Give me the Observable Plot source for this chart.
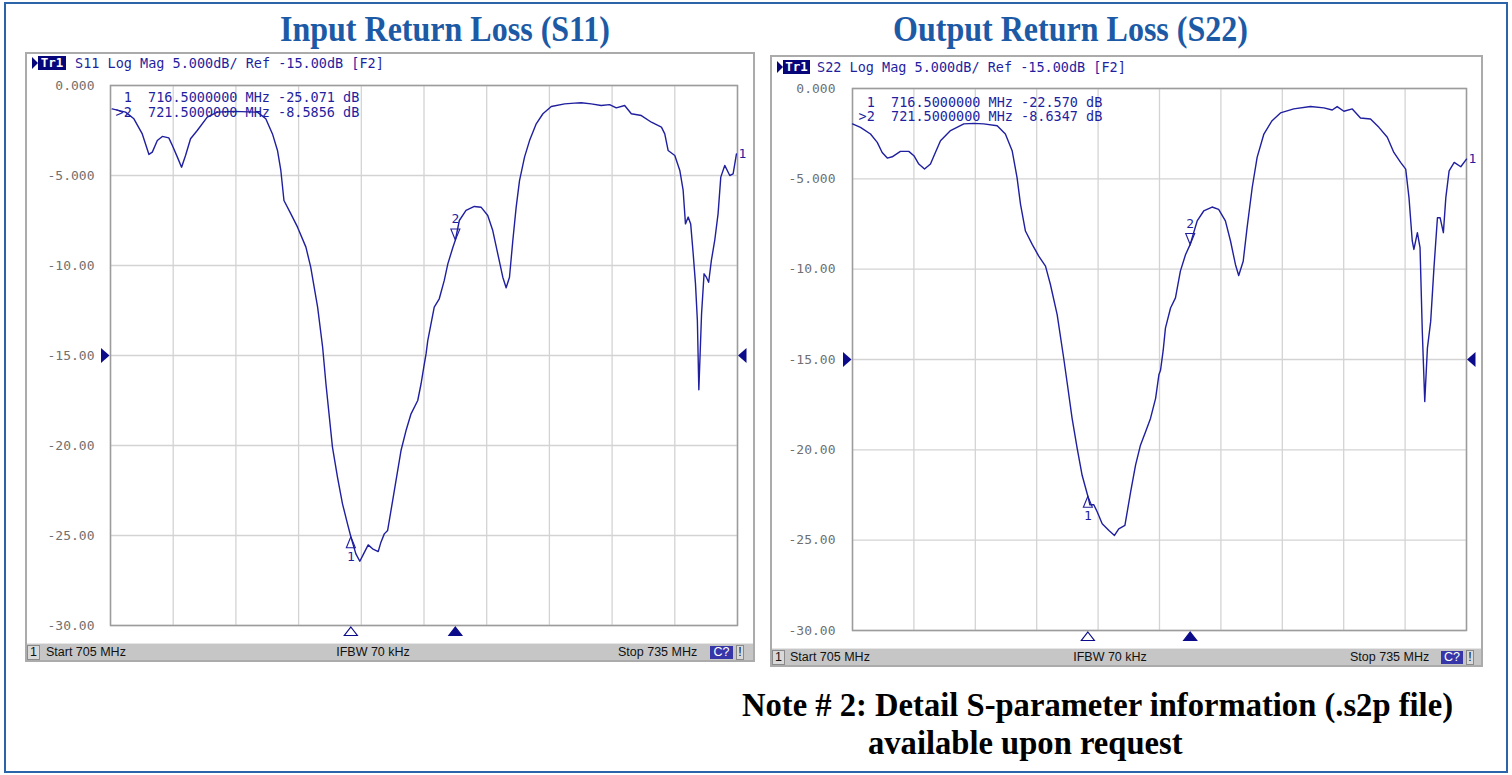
<!DOCTYPE html>
<html>
<head>
<meta charset="utf-8">
<script src="https://cdn.jsdelivr.net/npm/d3@7"></script>
<script src="https://cdn.jsdelivr.net/npm/@observablehq/plot@0.6"></script>
<style>
  html, body { margin: 0; padding: 0; background: #fff; }
  body { width: 1512px; height: 775px; position: relative; overflow: hidden; }
  .abs { position: absolute; }
  svg text { white-space: pre; }
  #outer { position: absolute; left: 4px; top: 2px; width: 1500px; height: 767px; border: 2px solid #2b64a8; }
  .panel { position: absolute; box-sizing: border-box; border: 2px solid #ababab; background: #fff; }
  .title { position: absolute; white-space: nowrap; font-family: "Liberation Serif", serif; font-weight: bold; font-size: 36px; line-height: 36px; color: #1d5aa6; }
  #note { position: absolute; white-space: nowrap; font-family: "Liberation Serif", serif; font-weight: bold; font-size: 34px; line-height: 38px; color: #000; left: 742px; top: 685.5px; transform-origin: left top; }
  #note span { display: inline-block; }
  .hdr { position: absolute; white-space: pre; font-family: "DejaVu Sans Mono", monospace; font-size: 13.5px; line-height: 16px; color: #1f1f9f; }
  .tr1 { position: absolute; background: #06067a; color: #fff; font-family: "DejaVu Sans Mono", monospace; font-size: 12.5px; line-height: 14px; height: 14px; text-align: center; font-weight: bold; }
  .tri { position: absolute; width: 0; height: 0; border-top: 6px solid transparent; border-bottom: 6px solid transparent; border-left: 6px solid #06067a; }
  .status { position: absolute; background: #c6c6c6; height: 17px; border-top: 1px solid #e6e6e6; box-sizing: border-box; }
  .st { position: absolute; white-space: nowrap; font-family: "Liberation Sans", sans-serif; font-size: 12.5px; line-height: 16px; color: #111; }
  .box1 { position: absolute; background: #d9d9d9; border: 1px solid #8a8a8a; box-sizing: border-box; height: 15px; top: 1px; font-family: "Liberation Sans", sans-serif; font-size: 12.5px; line-height: 13px; text-align: center; color: #111; }
  .cq { position: absolute; background: #3636a8; color: #fff; height: 13px; top: 2px; font-family: "Liberation Sans", sans-serif; font-size: 12.5px; line-height: 13px; text-align: center; }
</style>
</head>
<body>
<div id="outer"></div>

<div class="title fit" data-w="330" data-cx="445" style="top:11px">Input Return Loss (S11)</div>
<div class="title fit" data-w="355" data-cx="1070.5" style="top:11px">Output Return Loss (S22)</div>

<div class="panel" style="left:25px;top:52px;width:730px;height:610px"></div>
<div class="panel" style="left:770px;top:55px;width:713px;height:612px"></div>

<div class="tri" style="left:32px;top:57px"></div>
<div class="tr1" style="left:38px;top:56px;width:28px">Tr1</div>
<div class="hdr" id="hdr1" style="left:75px;top:55px"></div>

<div class="tri" style="left:777px;top:61px"></div>
<div class="tr1" style="left:783px;top:60px;width:27px">Tr1</div>
<div class="hdr" id="hdr2" style="left:817px;top:59px"></div>

<div id="plot1" class="abs" style="left:25px;top:52px"></div>
<div id="plot2" class="abs" style="left:770px;top:55px"></div>

<div class="status" style="left:27px;top:643px;width:726px">
  <div class="box1" style="left:0px;width:13px">1</div>
  <div class="st" style="left:19px;top:0px">Start 705 MHz</div>
  <div class="st fitc" data-cx="346" style="top:0px">IFBW 70 kHz</div>
  <div class="st" style="left:591px;top:0px">Stop 735 MHz</div>
  <div class="cq" style="left:683px;width:23px">C?</div>
  <div class="box1" style="left:709px;width:8px">!</div>
</div>
<div class="status" style="left:772px;top:648px;width:709px">
  <div class="box1" style="left:0px;width:13px">1</div>
  <div class="st" style="left:18px;top:0px">Start 705 MHz</div>
  <div class="st fitc" data-cx="338" style="top:0px">IFBW 70 kHz</div>
  <div class="st" style="left:578px;top:0px">Stop 735 MHz</div>
  <div class="cq" style="left:669px;width:22px">C?</div>
  <div class="box1" style="left:694px;width:8px">!</div>
</div>

<div id="note"><span id="note1">Note # 2: Detail S-parameter information (.s2p file)</span><br><span id="note2">available upon request</span></div>

<script>
// ---------- data ----------
const xTicks = [705, 708, 711, 714, 717, 720, 723, 726, 729, 732, 735];
const yTicks = [0, -5, -10, -15, -20, -25, -30];
const yTickLabels = ["0.000", "-5.000", "-10.00", "-15.00", "-20.00", "-25.00", "-30.00"];
const refLevel = -15;

const markerFreq = [716.5, 721.5];
const s11MarkerDb = [-25.071, -8.5856];
const s22MarkerDb = [-22.570, -8.6347];

const s11Freq = [705.08, 705.72, 706.12, 706.52, 706.84, 707.0, 707.24, 707.48, 707.79, 707.96, 708.2, 708.4, 708.59, 708.83, 709.15, 709.63, 710.11, 710.91, 712.03, 712.43, 712.75, 712.99, 713.15, 713.3, 713.63, 713.95, 714.35, 714.58, 714.91, 715.15, 715.31, 715.62, 715.86, 716.1, 716.34, 716.5, 716.74, 716.93, 717.11, 717.33, 717.54, 717.81, 717.94, 718.1, 718.26, 718.5, 718.74, 718.9, 719.14, 719.38, 719.7, 719.86, 719.99, 720.1, 720.18, 720.49, 720.73, 720.97, 721.14, 721.38, 721.5, 721.69, 722.01, 722.41, 722.73, 723.05, 723.29, 723.53, 723.77, 723.93, 724.09, 724.25, 724.41, 724.57, 724.81, 725.05, 725.37, 725.69, 726.09, 726.73, 727.2, 727.52, 728.0, 728.48, 728.88, 729.2, 729.6, 729.92, 730.4, 730.88, 731.36, 731.52, 731.68, 732.0, 732.24, 732.4, 732.51, 732.64, 732.76, 732.88, 732.99, 733.08, 733.15, 733.28, 733.4, 733.51, 733.62, 733.75, 733.91, 734.07, 734.2, 734.39, 734.63, 734.79, 734.95];
const s11Db = [-1.30, -1.48, -1.85, -2.69, -3.83, -3.70, -3.06, -2.83, -2.91, -3.33, -3.98, -4.54, -3.89, -2.96, -2.50, -1.76, -1.48, -1.44, -1.48, -1.85, -2.69, -3.61, -4.72, -6.39, -7.13, -7.87, -8.98, -10.09, -12.31, -14.54, -16.6, -20.09, -21.76, -23.24, -24.35, -25.07, -26.02, -26.43, -26.02, -25.52, -25.74, -25.89, -25.37, -24.91, -24.72, -23.06, -21.39, -20.28, -19.17, -18.24, -17.50, -16.57, -15.65, -14.9, -14.17, -12.31, -11.85, -10.83, -9.91, -9.0, -8.59, -7.50, -6.94, -6.72, -6.76, -7.22, -8.06, -9.35, -10.65, -11.24, -10.65, -8.61, -6.76, -5.28, -3.98, -3.06, -2.13, -1.57, -1.17, -1.02, -0.98, -0.96, -1.02, -1.11, -1.06, -1.24, -1.11, -1.57, -1.67, -2.04, -2.31, -2.69, -3.61, -3.89, -4.72, -5.83, -7.69, -7.31, -7.69, -9.35, -11.02, -13.06, -16.9, -12.69, -10.46, -10.65, -10.93, -9.72, -8.61, -7.13, -5.09, -4.44, -5.00, -4.91, -3.80];

const s22Freq = [705.0, 705.39, 705.88, 706.21, 706.45, 706.7, 706.94, 707.34, 707.75, 708.0, 708.24, 708.52, 708.81, 709.05, 709.3, 709.79, 710.44, 710.93, 711.41, 712.07, 712.47, 712.8, 713.04, 713.21, 713.45, 713.78, 714.1, 714.43, 714.67, 715.0, 715.32, 715.49, 715.73, 715.98, 716.22, 716.5, 716.6, 716.79, 716.96, 717.2, 717.53, 717.8, 718.01, 718.31, 718.59, 718.83, 719.07, 719.32, 719.56, 719.81, 719.97, 720.05, 720.18, 720.29, 720.54, 720.78, 721.02, 721.27, 721.5, 721.84, 722.16, 722.57, 722.89, 723.22, 723.47, 723.71, 723.87, 724.09, 724.28, 724.53, 724.77, 725.1, 725.5, 725.91, 726.56, 727.38, 728.03, 728.44, 728.68, 729.01, 729.42, 729.82, 730.31, 730.72, 731.13, 731.45, 731.78, 732.03, 732.19, 732.35, 732.43, 732.6, 732.73, 732.84, 732.96, 733.09, 733.25, 733.41, 733.58, 733.71, 733.87, 733.99, 734.15, 734.4, 734.72, 735.0];
const s22Db = [-1.96, -2.15, -2.52, -2.98, -3.54, -3.85, -3.78, -3.48, -3.48, -3.72, -4.18, -4.46, -4.18, -3.54, -2.89, -2.33, -1.96, -1.93, -1.96, -2.06, -2.52, -3.44, -4.93, -6.41, -7.89, -8.63, -9.28, -9.83, -10.85, -12.52, -14.93, -16.3, -18.26, -19.93, -21.41, -22.57, -23.04, -23.04, -23.44, -24.09, -24.46, -24.74, -24.37, -24.18, -22.33, -20.85, -19.74, -19.00, -18.26, -17.15, -15.85, -15.6, -14.5, -13.26, -12.15, -11.59, -10.11, -9.2, -8.63, -7.33, -6.78, -6.56, -6.69, -7.33, -8.44, -9.74, -10.35, -9.56, -7.70, -5.48, -3.81, -2.52, -1.78, -1.35, -1.13, -1.00, -1.07, -1.19, -1.00, -1.26, -1.13, -1.63, -1.69, -2.15, -2.70, -3.54, -4.09, -4.46, -6.04, -8.44, -8.91, -7.98, -8.81, -13.44, -17.33, -14.37, -12.89, -9.93, -7.15, -7.15, -7.98, -6.04, -4.56, -4.09, -4.33, -3.91];

const hdr1 = "S11 Log Mag 5.000dB/ Ref -15.00dB [F2]";
const hdr2 = "S22 Log Mag 5.000dB/ Ref -15.00dB [F2]";

// ---------- styles ----------
const navy = "#1f1f9f";
const markNavy = "#0c0c8a";

const triApexUp = {draw(c) { c.moveTo(0, 0); c.lineTo(4.5, 11); c.lineTo(-4.5, 11); c.closePath(); }};
const triApexDown = {draw(c) { c.moveTo(0, 0); c.lineTo(4.5, -11); c.lineTo(-4.5, -11); c.closePath(); }};
const flatUp = {draw(c) { c.moveTo(0, -4.5); c.lineTo(6.5, 4); c.lineTo(-6.5, 4); c.closePath(); }};
const arrowR = {draw(c) { c.moveTo(4.5, 0); c.lineTo(-4, -7.5); c.lineTo(-4, 7.5); c.closePath(); }};
const arrowL = {draw(c) { c.moveTo(-4.5, 0); c.lineTo(4, -7.5); c.lineTo(4, 7.5); c.closePath(); }};

function readoutLines(dbs) {
  return markerFreq.map((f, i) => (i === 1 ? ">" : " ") + (i + 1) + "  " + f.toFixed(7) + " MHz " + dbs[i].toPrecision(5) + " dB");
}

function panel(o) {
  const data = o.freq.map((f, i) => ({f, v: o.db[i]}));
  const m1 = [{f: markerFreq[0], v: o.mk[0]}];
  const m2 = [{f: markerFreq[1], v: o.mk[1]}];
  const last = [data[data.length - 1]];
  const lines = readoutLines(o.mk);
  return Plot.plot({
    width: o.width, height: o.height,
    marginLeft: o.ml, marginRight: o.mr, marginTop: o.mt, marginBottom: o.mb,
    x: {domain: [705, 735], axis: null},
    y: {domain: [-30, 0], axis: null},
    style: {background: "transparent", overflow: "visible", fontFamily: "DejaVu Sans Mono, monospace"},
    marks: [
      Plot.gridX(xTicks, {stroke: "#d3d3d3", strokeOpacity: 1, strokeWidth: 1.3}),
      Plot.gridY(yTicks, {stroke: "#d3d3d3", strokeOpacity: 1, strokeWidth: 1.3}),
      Plot.frame({stroke: "#9c9c9c", strokeWidth: 1.5}),
      Plot.text(yTicks, {y: d => d, frameAnchor: "left", dx: o.labDx, textAnchor: "end", text: d => yTickLabels[yTicks.indexOf(d)], fill: "#707070", fontSize: 13}),
      Plot.dot([refLevel], {y: d => d, frameAnchor: "left", dx: -5.5, symbol: arrowR, fill: markNavy, stroke: "none"}),
      Plot.dot([refLevel], {y: d => d, frameAnchor: "right", dx: 5, symbol: arrowL, fill: markNavy, stroke: "none"}),
      Plot.text([lines[0]], {frameAnchor: "top-left", dx: o.rdx, dy: o.rdy[0], textAnchor: "start", lineAnchor: "middle", text: d => d, fill: navy, fontSize: 13.5}),
      Plot.text([lines[1]], {frameAnchor: "top-left", dx: o.rdx, dy: o.rdy[1], textAnchor: "start", lineAnchor: "middle", text: d => d, fill: navy, fontSize: 13.5}),
      Plot.line(data, {x: "f", y: "v", stroke: navy, strokeWidth: 1.4}),
      Plot.dot(m1, {x: "f", y: "v", symbol: triApexUp, fill: "none", stroke: navy, strokeWidth: 1.1}),
      Plot.dot(m2, {x: "f", y: "v", symbol: triApexDown, fill: "none", stroke: navy, strokeWidth: 1.1}),
      Plot.text(m1, {x: "f", y: "v", dy: 20, text: () => "1", fill: navy, fontSize: 13}),
      Plot.text(m2, {x: "f", y: "v", dy: -21, text: () => "2", fill: navy, fontSize: 13}),
      Plot.text(last, {x: "f", y: "v", dx: 2, textAnchor: "start", text: () => "1", fill: navy, fontSize: 13}),
      Plot.dot(m1, {x: "f", frameAnchor: "bottom", dy: 6, symbol: flatUp, fill: "white", stroke: markNavy, strokeWidth: 1.2}),
      Plot.dot(m2, {x: "f", frameAnchor: "bottom", dy: 6, symbol: flatUp, fill: markNavy, stroke: markNavy, strokeWidth: 1.2})
    ]
  });
}

document.getElementById("hdr1").textContent = hdr1;
document.getElementById("hdr2").textContent = hdr2;

document.getElementById("plot1").append(panel({
  freq: s11Freq, db: s11Db, mk: s11MarkerDb,
  width: 730, height: 591, ml: 85, mr: 18, mt: 33, mb: 18,
  labDx: -16, rdx: 5, rdy: [12, 27]
}));
document.getElementById("plot2").append(panel({
  freq: s22Freq, db: s22Db, mk: s22MarkerDb,
  width: 713, height: 593, ml: 82, mr: 17, mt: 33, mb: 18,
  labDx: -17, rdx: 6, rdy: [14, 28]
}));

// fit condensed serif titles to reference widths
document.querySelectorAll(".fit").forEach(el => {
  const w = el.getBoundingClientRect().width;
  const target = +el.dataset.w;
  el.style.transformOrigin = "left top";
  el.style.transform = `scaleX(${target / w})`;
  el.style.left = (+el.dataset.cx - target / 2) + "px";
});
document.querySelectorAll(".fitc").forEach(el => {
  const w = el.getBoundingClientRect().width;
  el.style.left = (+el.dataset.cx - w / 2) + "px";
});
// note block: line 1 spans 742..1453, line 2 starts at 868
{
  const n1 = document.getElementById("note1");
  const n2 = document.getElementById("note2");
  const s = 711 / n1.getBoundingClientRect().width;
  n2.style.marginLeft = (126 / s) + "px";
  document.getElementById("note").style.transform = `scaleX(${s})`;
}
</script>
</body>
</html>
